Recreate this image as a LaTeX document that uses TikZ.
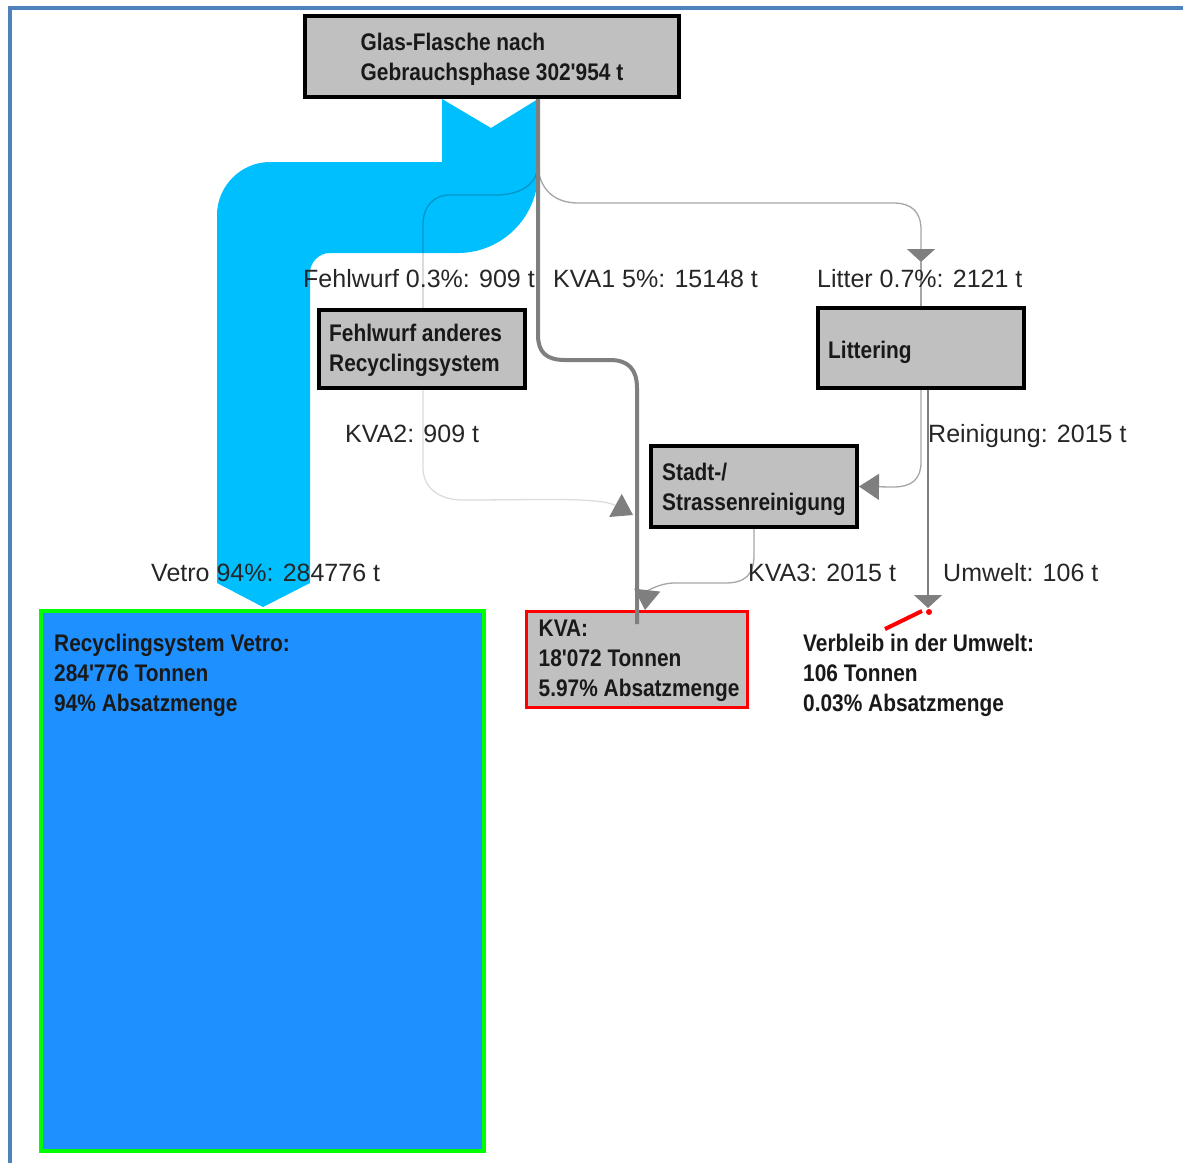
\documentclass[tikz,border=0pt]{standalone}
\usepackage{fontspec}
\setmainfont{Liberation Sans}
\newfontfamily\boxfont[FakeStretch=0.87]{Liberation Sans}
\usetikzlibrary{arrows.meta}
\definecolor{frameblue}{HTML}{4F81BD}
\definecolor{flowblue}{HTML}{00BFFF}
\definecolor{vetroblue}{HTML}{1E90FF}
\definecolor{boxgray}{HTML}{C0C0C0}
\definecolor{vgreen}{HTML}{00FF00}
\definecolor{arrowgray}{HTML}{7F7F7F}
\definecolor{midgray}{HTML}{A6A6A6}
\definecolor{palegray}{HTML}{DDDDDD}
\begin{document}
\begin{tikzpicture}[x=1pt,y=-1pt,
  gbox/.style={draw=black, line width=4pt, fill=boxgray, inner sep=0pt},
  btext/.style={font=\fontsize{24}{30}\boxfont\bfseries, align=left, inner sep=0pt, text=black!90},
  lbl/.style={font=\fontsize{25}{30}\selectfont, inner sep=0pt, anchor=base west, text=black!85},
  thinflow/.style={draw=midgray, line width=1.3pt},
  paleflow/.style={draw=palegray, line width=1.3pt},
  darkflow/.style={draw=arrowgray, line width=4pt},
  umweltflow/.style={draw=arrowgray, line width=1.2pt},
  downtip/.style={-{Triangle[length=13pt,width=28pt,color=arrowgray]}},
  bigtip/.style={-{Triangle[length=20pt,width=26pt,color=arrowgray]}}
]
\useasboundingbox (0,0) rectangle (1183,1163);
\fill[white] (0,0) rectangle (1183,1163);
% frame
\draw[frameblue, line width=3.5pt] (10,1163) -- (10,8) -- (1183,8);

% boxes (geometry)
\node[gbox, minimum width=374pt, minimum height=81pt] (glas) at (492,56.5) {};
\coordinate (src) at ([xshift=46pt]glas.south);
\coordinate (fork) at ([yshift=-68pt]src);

% big Vetro flow
\fill[flowblue] (442,99) -- (491,128) -- (538,99) -- (538,173)
  .. controls (538,217) and (502,253) .. (458,253) -- (330,253)
  .. controls (319,253) and (310,262) .. (310,273) -- (310,583)
  -- (263,607) -- (217,583) -- (217,215)
  .. controls (217,186) and (241,162) .. (270,162) -- (442,162) -- cycle;

\node[gbox, minimum width=206pt, minimum height=78pt] (fehl) at (422,349) {};
\node[gbox, minimum width=206pt, minimum height=80pt] (litt) at (921,348) {};
\node[gbox, minimum width=206pt, minimum height=81pt] (stadt) at (754,486.5) {};
\node[gbox, draw=red, line width=3pt, minimum width=221pt, minimum height=96pt] (kva) at (637,659.5) {};
\node[draw=vgreen, fill=vetroblue, line width=4pt, minimum width=443pt, minimum height=540pt, inner sep=0pt] (vetro) at (262.5,881) {};

% thin flows
\draw[draw=black, draw opacity=0.22, line width=1.3pt] (fork)
  .. controls (536,185) and (520,195) .. (495,195) -- (450,195)
  .. controls (433,195) and (423,207) .. (423,225) -- ([xshift=1pt]fehl.north);
\coordinate (kvatwotip) at (633,515);
\draw[paleflow, bigtip] ([xshift=1pt]fehl.south) -- (423,468)
  .. controls (423,488) and (440,500) .. (462,500)
  .. controls (540,500) and (600,497) .. (kvatwotip);
\coordinate (littip) at (921,262);
\draw[thinflow, downtip] (fork) .. controls (540,190) and (555,203) .. (578,203) -- (893,203)
  .. controls (912,203) and (921,212) .. (921,230) -- (littip);
\draw[thinflow] (littip) -- (litt.north);
\draw[thinflow, bigtip] (litt.south) -- (921,462)
  .. controls (921,479) and (912,487) .. (893,487) -- (stadt.east);
\coordinate (umwelttip) at (928,608);
\draw[umweltflow, downtip] ([xshift=7pt]litt.south) -- (umwelttip);
\draw[thinflow, bigtip] (stadt.south) -- (754,555)
  .. controls (754,575) and (745,583) .. (725,583) -- (675,583)
  .. controls (658,583) and (647,592) .. ([xshift=8pt]kva.north);
% KVA1 thick flow
\draw[darkflow] (src) -- (538,335)
  .. controls (538,352) and (546,360) .. (565,360) -- (610,360)
  .. controls (628,360) and (637,369) .. (637,388) -- ([yshift=-14pt]kva.north);

% red marker
\coordinate (redend) at (922,611);
\coordinate (redstart) at (885,629);
\draw[red, line width=4pt] (redstart) -- (redend);
\fill[red] (929,612) circle (3pt);

% box texts
\node[btext, anchor=center] (glastext) at ([yshift=-3pt]glas.center) {Glas-Flasche nach\\Gebrauchsphase 302'954 t};
\node[btext, anchor=west] (fehltext) at ([xshift=12pt,yshift=-1.5pt]fehl.west) {Fehlwurf anderes\\Recyclingsystem};
\node[btext, anchor=west] (litttext) at ([xshift=12pt,yshift=-4pt]litt.west) {Littering};
\node[btext, anchor=west] (stadttext) at ([xshift=13pt,yshift=-3pt]stadt.west) {Stadt-/\\Strassenreinigung};
\node[btext, anchor=west] (kvatext) at ([xshift=13.5pt,yshift=-1.5pt]kva.west) {KVA:\\18'072 Tonnen\\5.97\% Absatzmenge};
\node[btext, anchor=north west] (vetrotext) at (54,634) {Recyclingsystem Vetro:\\284'776 Tonnen\\94\% Absatzmenge};
\node[btext, anchor=west] (verbleib) at (803,675) {Verbleib in der Umwelt:\\106 Tonnen\\0.03\% Absatzmenge};

% flow labels
\node[lbl] (lfehl) at (303,287) {Fehlwurf 0.3\%: 909 t};
\node[lbl] (lkvaone) at (553,287) {KVA1 5\%: 15148 t};
\node[lbl] (llitter) at (817,287) {Litter 0.7\%: 2121 t};
\node[lbl] (lkvatwo) at (345,442) {KVA2: 909 t};
\node[lbl] (lrein) at (928,442) {Reinigung: 2015 t};
\node[lbl] (lkvathree) at (748,581) {KVA3: 2015 t};
\node[lbl] (lumwelt) at (943,581) {Umwelt: 106 t};
\node[lbl] (lvetro) at (151,581) {Vetro 94\%: 284776 t};
\end{tikzpicture}
\end{document}
